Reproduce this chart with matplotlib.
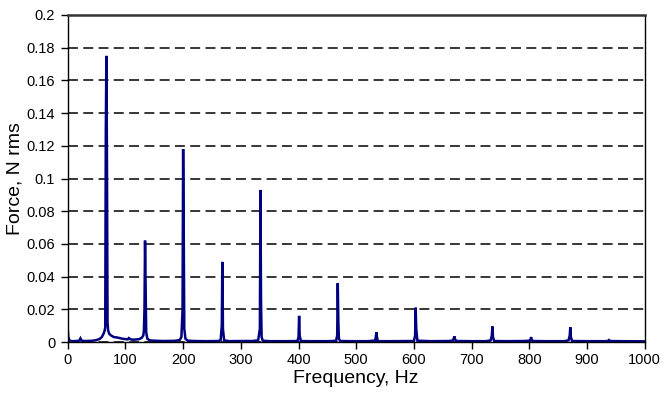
import matplotlib
matplotlib.use("Agg")
import matplotlib.pyplot as plt

plt.rcParams['font.family'] = ['Liberation Sans', 'DejaVu Sans']

# spectrum (Hz, N rms), one line per stretch
freq = [0, 1, 3, 8, 15, 20, 22, 24, 30, 40, 48, 55, 59, 62, 64, 65, 66, 67, 68, 69, 70, 72, 75, 80,
        85, 90, 95, 100, 104, 106, 108, 112, 118, 124, 128, 131, 132, 133, 134, 135, 136, 138, 142,
        150, 165, 185, 194, 197, 199, 200, 201, 202, 204, 208, 220, 240, 260, 265, 267, 268, 269, 271,
        280, 300, 320, 330, 333, 334, 335, 336, 338, 350, 380, 398, 400, 401, 402, 404, 420,
        450, 465, 467, 468, 469, 470, 472, 490, 520, 533, 535, 536, 537, 539, 560, 590, 600,
        602, 603, 604, 606, 630, 660, 667, 669, 670, 671, 673, 700, 725, 733, 735, 736, 737,
        739, 760, 790, 800, 802, 803, 804, 806, 830, 860, 868, 870, 871, 872, 874, 900, 930,
        936, 938, 940, 960, 1000]
force = [0.008, 0.003, 0.0008, 0.0005, 0.0006, 0.0008, 0.0022, 0.0008, 0.0006, 0.0007, 0.001,
         0.0018, 0.003, 0.005, 0.007, 0.009, 0.13, 0.175, 0.11, 0.012, 0.007, 0.005, 0.004, 0.003,
         0.0028, 0.0024, 0.002, 0.0018, 0.0016, 0.0024, 0.0018, 0.0014, 0.0015, 0.0018, 0.0025,
         0.004, 0.007, 0.02, 0.062, 0.035, 0.006, 0.002, 0.001,
         0.0008, 0.0006, 0.0007, 0.0012, 0.003, 0.02, 0.118, 0.07, 0.008, 0.002, 0.0008, 0.0006,
         0.0005, 0.0006, 0.001, 0.01, 0.049, 0.008, 0.001,
         0.0005, 0.0006, 0.0006, 0.001, 0.008, 0.093, 0.025, 0.003, 0.0008, 0.0005, 0.0005, 0.0006,
         0.003, 0.016, 0.004, 0.0006, 0.0005,
         0.0005, 0.0007, 0.004, 0.036, 0.012, 0.002, 0.0006, 0.0005, 0.0005, 0.0009, 0.006, 0.003,
         0.0007, 0.0005, 0.0005, 0.0006, 0.0006,
         0.004, 0.021, 0.008, 0.0008, 0.0005, 0.0006, 0.0009, 0.002, 0.0035, 0.002, 0.0006,
         0.0005, 0.0005, 0.001, 0.004, 0.0095, 0.003,
         0.0006, 0.0005, 0.0006, 0.0008, 0.0015, 0.003, 0.0015, 0.0006, 0.0005, 0.0005, 0.001,
         0.004, 0.009, 0.003, 0.0006, 0.0005, 0.0005, 0.0006, 0.0012, 0.0006, 0.0005, 0.0004]

yticks = [0, 0.02, 0.04, 0.06, 0.08, 0.1, 0.12, 0.14, 0.16, 0.18, 0.2]
ytick_labels = ["0", "0.02", "0.04", "0.06", "0.08", "0.1", "0.12", "0.14", "0.16", "0.18", "0.2"]
xticks = list(range(0, 1001, 100))

fig = plt.figure(figsize=(6.64, 4.0), dpi=100)
ax = fig.add_axes([0.102, 0.145, 0.869, 0.8175])

ax.plot(freq, force, color="#000080", lw=1.8, solid_joinstyle="miter")

ax.set_xlim(0, 1000)
ax.set_ylim(0, 0.2)
ax.set_xticks(xticks)
ax.set_yticks(yticks)
ax.set_yticklabels(ytick_labels)
ax.tick_params(direction="out", length=5, width=1, labelsize=10.5, colors="black", pad=4)
ax.tick_params(axis="x", pad=3)
ax.yaxis.grid(True, linestyle=(0, (6.5, 3.5)), color="black", lw=1.1)
ax.set_axisbelow(True)
for s in ax.spines.values():
    s.set_color("black")
    s.set_linewidth(1)
ax.spines["top"].set_linewidth(1.8)
ax.spines["top"].set_color("#333333")

ax.set_xlabel("Frequency, Hz", fontsize=14, labelpad=2)
ax.set_ylabel("Force, N rms", fontsize=14, labelpad=2)

fig.savefig("out.png", dpi=100)
